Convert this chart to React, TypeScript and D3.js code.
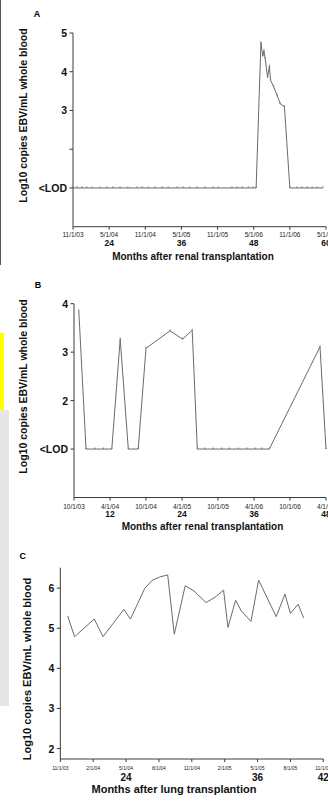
import { line, scaleLinear } from 'd3'

const LOD = 1

// panel A: renal transplant, months after tx / log10 copies
const aMonths = [18.1, 18.7, 19.5, 20.3, 21.2, 22.5, 23.6, 24.6, 25.8, 27.1, 28.6, 29.5, 30.5, 31.6, 32.8, 33.8, 35.3, 36.3, 37.4, 38.6, 39.9, 41.3, 42.1, 44.4, 45.2, 46.1, 47.1, 47.9, 48.4,
  49.2, 49.5, 49.7, 49.9, 50.3, 50.6, 50.8, 51.3, 51.9, 52.4, 53.1,
  54.0, 55.2, 56.0, 56.9, 57.7, 58.5, 59.5]
const aLog = [LOD, LOD, LOD, LOD, LOD, LOD, LOD, LOD, LOD, LOD, LOD, LOD, LOD, LOD, LOD, LOD, LOD, LOD, LOD, LOD, LOD, LOD, LOD, LOD, LOD, LOD, LOD, LOD, LOD,
  4.75, 4.4, 4.54, 4.34, 3.85, 4.14, 3.78, 3.62, 3.38, 3.17, 3.1,
  LOD, LOD, LOD, LOD, LOD, LOD, LOD]
const aDates = ['11/1/03', '5/1/04', '11/1/04', '5/1/05', '11/1/05', '5/1/06', '11/1/06', '5/1/07']
const aDateMonths = [18, 24, 30, 36, 42, 48, 54, 60]
const aMonthTicks = [24, 36, 48, 60]
const aYTicks = [5, 4, 3, 2, 1]
const aYLabels = ['5', '4', '3', '', '<LOD']

// panel B
const bMonths = [6.8, 8.0, 9.5, 10.9, 12.3, 13.7, 15.05, 16.7, 18.0, 22.0, 24.1, 25.7,
  26.55, 27.8, 29.2, 30.6, 31.9, 33.4, 34.8, 36.2, 37.3, 38.55, 47.0, 48.0]
const bLog = [3.85, LOD, LOD, LOD, LOD, 3.27, LOD, LOD, 3.08, 3.44, 3.27, 3.45,
  LOD, LOD, LOD, LOD, LOD, LOD, LOD, LOD, LOD, LOD, 3.11, LOD]
const bDates = ['10/1/03', '4/1/04', '10/1/04', '4/1/05', '10/1/05', '4/1/06', '10/1/06', '4/1/07']
const bDateMonths = [6, 12, 18, 24, 30, 36, 42, 48]
const bMonthTicks = [12, 24, 36, 48]
const bYTicks = [4, 3, 2, 1]
const bYLabels = ['4', '3', '2', '<LOD']

// panel C: lung transplant
const cMonths = [18.67, 19.3, 21.1, 21.9, 23.8, 24.4, 25.7, 26.4, 27.1, 27.8, 28.4, 29.4, 30.2, 31.3, 32.1, 32.9, 33.3, 34.0, 34.5, 35.4, 36.1, 37.7, 38.5, 39.0, 39.7, 40.2]
const cLog = [5.31, 4.79, 5.23, 4.79, 5.47, 5.23, 5.99, 6.2, 6.28, 6.33, 4.85, 6.06, 5.93, 5.64, 5.77, 5.95, 5.02, 5.70, 5.44, 5.17, 6.20, 5.29, 5.85, 5.37, 5.60, 5.26]
const cDates = ['11/1/03', '2/1/04', '5/1/04', '8/1/04', '11/1/04', '2/1/05', '5/1/05', '8/1/05', '11/1/05']
const cDateMonths = [18, 21, 24, 27, 30, 33, 36, 39, 42]
const cMonthTicks = [24, 36, 42]
const cYTicks = [6, 5, 4, 3, 2]
const cYLabels = ['6', '5', '4', '3', '2']

const font = '"Liberation Sans", Arial, Helvetica, sans-serif'
const axisColor = '#3a3a3a'
const lineColor = '#6a6a6a'

type PanelProps = {
  letter: string, letterX: number, letterY: number,
  months: number[], values: number[],
  xDomain: [number, number], xRange: [number, number],
  yDomain: [number, number], yRange: [number, number],
  yTicks: number[], yLabels: string[],
  dates: string[], dateMonths: number[], monthTicks: number[],
  dateY: number, dateSize: number, monthY: number, monthSize: number,
  xLabel: string, xLabelX: number, xLabelY: number, xLabelSize: number,
  yLabelX: number, yLabelY: number, yLabelSize: number,
  markers: boolean
}

const Panel = (p: PanelProps) => {
  const x = scaleLinear().domain(p.xDomain).range(p.xRange)
  const y = scaleLinear().domain(p.yDomain).range(p.yRange)
  const pts = p.months.map((m, i) => [m, p.values[i]] as [number, number])
  const path = line<[number, number]>().x(d => x(d[0])).y(d => y(d[1]))(pts)
  const x0 = p.xRange[0], yB = p.yRange[0]

  return (
    <g fontFamily={font}>
      <text x={p.letterX} y={p.letterY} fontSize={9} fontWeight='bold' textAnchor='middle' dominantBaseline='middle'>{p.letter}</text>

      {/* axes */}
      <line x1={x0} x2={x0} y1={p.yRange[0]} y2={p.yRange[1]} stroke={axisColor} strokeWidth={1} />
      <line x1={x0} x2={p.xRange[1]} y1={yB} y2={yB} stroke={axisColor} strokeWidth={1} />

      {p.yTicks.map((t, i) => (
        <g key={'y' + i}>
          <line x1={x0 - 3.5} x2={x0} y1={y(t)} y2={y(t)} stroke={axisColor} />
          <text x={x0 - 6} y={y(t)} fontSize={10.5} fontWeight='bold' textAnchor='end' dominantBaseline='central' fill='#111'>{p.yLabels[i]}</text>
        </g>
      ))}

      {p.dateMonths.map((m, i) => (
        <g key={'d' + i}>
          <line x1={x(m)} x2={x(m)} y1={yB} y2={yB + 3} stroke={axisColor} />
          <text x={x(m)} y={p.dateY} fontSize={p.dateSize} textAnchor='middle' dominantBaseline='central' fill='#222'>{p.dates[i]}</text>
        </g>
      ))}
      {p.monthTicks.map(m => (
        <text key={'m' + m} x={x(m)} y={p.monthY} fontSize={p.monthSize} fontWeight='bold' textAnchor='middle' dominantBaseline='central' fill='#111'>{m}</text>
      ))}
      <text x={p.xLabelX} y={p.xLabelY} fontSize={p.xLabelSize} fontWeight='bold' textAnchor='middle' dominantBaseline='central' fill='#111'>{p.xLabel}</text>
      <text transform={`translate(${p.yLabelX},${p.yLabelY}) rotate(-90)`} fontSize={p.yLabelSize} fontWeight='bold' textAnchor='middle' dominantBaseline='central' fill='#111'>Log10 copies EBV/mL whole blood</text>

      <path d={path || ''} fill='none' stroke={lineColor} strokeWidth={1} />
      {p.markers && pts.map((d, i) => (
        <line key={'p' + i} x1={x(d[0])} x2={x(d[0])} y1={y(d[1]) - 1.5} y2={y(d[1])} stroke={lineColor} strokeWidth={1} />
      ))}
    </g>
  )
}

export default function App() {
  return (
    <svg width={328} height={802} style={{ position: 'absolute', left: 0, top: 0, background: '#fff' }}>
      {/* scan edge marks on the left */}
      <line x1={0.5} x2={0.5} y1={0} y2={265} stroke='#555' strokeWidth={1} />
      <rect x={0} y={333} width={4} height={77} fill='#ffff00' />
      <rect x={0} y={410} width={9} height={296} fill='#e4e7e6' />

      <Panel letter='A' letterX={37} letterY={15}
        months={aMonths} values={aLog}
        xDomain={[18, 60]} xRange={[73, 326]} yDomain={[0, 5]} yRange={[226.7, 33]}
        yTicks={aYTicks} yLabels={aYLabels}
        dates={aDates} dateMonths={aDateMonths} monthTicks={aMonthTicks}
        dateY={234} dateSize={6.5} monthY={243} monthSize={8.5}
        xLabel='Months after renal transplantation' xLabelX={193} xLabelY={256} xLabelSize={10}
        yLabelX={22.5} yLabelY={115.5} yLabelSize={10.5} markers={true} />

      <Panel letter='B' letterX={38} letterY={285.5}
        months={bMonths} values={bLog}
        xDomain={[6, 48]} xRange={[74, 326]} yDomain={[0, 4]} yRange={[497.5, 303.7]}
        yTicks={bYTicks} yLabels={bYLabels}
        dates={bDates} dateMonths={bDateMonths} monthTicks={bMonthTicks}
        dateY={506} dateSize={6.5} monthY={513.5} monthSize={8.5}
        xLabel='Months after renal transplantation' xLabelX={202.5} xLabelY={526} xLabelSize={10}
        yLabelX={22.5} yLabelY={386.5} yLabelSize={10.5} markers={true} />

      <Panel letter='C' letterX={22.7} letterY={556.7}
        months={cMonths} values={cLog}
        xDomain={[18, 42]} xRange={[60.3, 323.3]} yDomain={[1.74, 6.51]} yRange={[759, 567.7]}
        yTicks={cYTicks} yLabels={cYLabels}
        dates={cDates} dateMonths={cDateMonths} monthTicks={cMonthTicks}
        dateY={767.5} dateSize={5} monthY={777} monthSize={10}
        xLabel='Months after lung transplantion' xLabelX={174} xLabelY={788.5} xLabelSize={11}
        yLabelX={27} yLabelY={669} yLabelSize={11} markers={false} />
    </svg>
  )
}
